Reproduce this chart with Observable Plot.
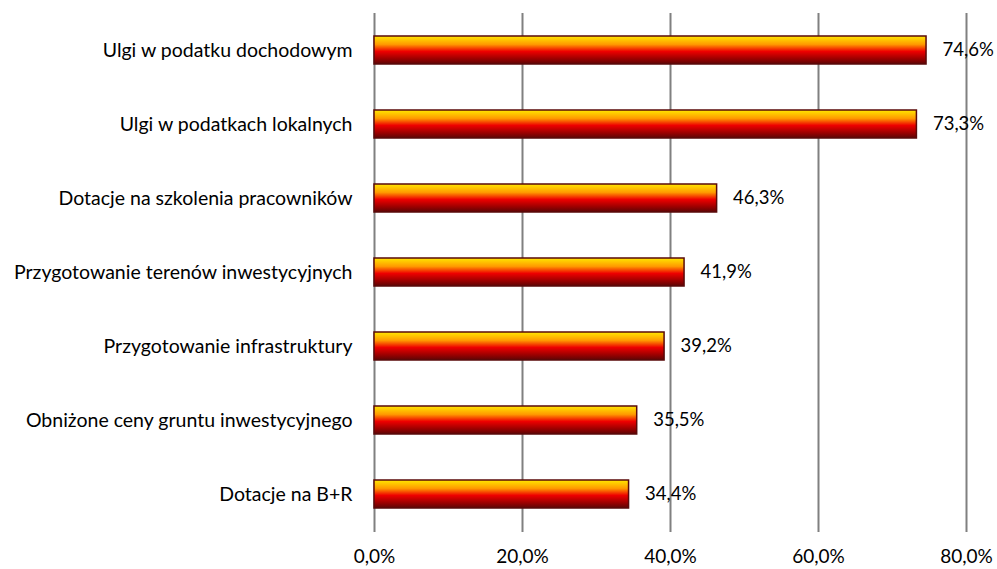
<!DOCTYPE html>
<html>
<head>
<meta charset="utf-8">
<script src="https://cdn.jsdelivr.net/npm/d3@7"></script>
<script src="https://cdn.jsdelivr.net/npm/@observablehq/plot@0.6"></script>
<style>
  body { margin: 0; background: #fff; }
  svg { font-family: Lato, "Open Sans", sans-serif; }
</style>
</head>
<body>
<div id="chart"></div>
<script>
const categories = [
  "Ulgi w podatku dochodowym",
  "Ulgi w podatkach lokalnych",
  "Dotacje na szkolenia pracowników",
  "Przygotowanie terenów inwestycyjnych",
  "Przygotowanie infrastruktury",
  "Obniżone ceny gruntu inwestycyjnego",
  "Dotacje na B+R"
];
const values = [74.6, 73.3, 46.3, 41.9, 39.2, 35.5, 34.4];
const xTicks = [0, 20, 40, 60, 80];

const data = categories.map((c, i) => ({category: c, value: values[i]}));
const fmt = v => v.toFixed(1).replace(".", ",") + "%";

const chart = Plot.plot({
  width: 997,
  height: 569,
  marginLeft: 374,
  marginRight: 31,
  marginTop: 13,
  marginBottom: 37,
  style: {fontSize: "19px", color: "#000", background: "#fff"},
  x: {domain: [0, 80], ticks: xTicks, tickFormat: fmt, label: null},
  y: {domain: categories, paddingInner: 0.62, paddingOuter: 0.31, label: null},
  marks: [
    Plot.ruleX(xTicks, {stroke: "#808080", strokeWidth: 2, strokeOpacity: 1}),
    Plot.barX(data, {x: "value", y: "category", fill: "url(#barGrad)", stroke: "#5a0a0a", strokeWidth: 1.5}),
    Plot.text(data, {x: "value", y: "category", text: d => fmt(d.value), textAnchor: "start", dx: 16, fontSize: 18.5, fill: "#000"}),
    Plot.axisX({ticks: xTicks, tickFormat: fmt, tickSize: 0, tickPadding: 17, fontSize: 19, label: null}),
    Plot.axisY({tickSize: 0, tickPadding: 22, fontSize: 19.5, label: null})
  ]
});

const ns = "http://www.w3.org/2000/svg";
const defs = document.createElementNS(ns, "defs");
defs.innerHTML = `<linearGradient id="barGrad" x1="0" y1="0" x2="0" y2="1">
  <stop offset="0" stop-color="#FFE800"/>
  <stop offset="0.3" stop-color="#FF9A00"/>
  <stop offset="0.55" stop-color="#EE0000"/>
  <stop offset="0.8" stop-color="#A00000"/>
  <stop offset="1" stop-color="#5C0505"/>
</linearGradient>`;
chart.insertBefore(defs, chart.firstChild);
document.getElementById("chart").appendChild(chart);
</script>
</body>
</html>
